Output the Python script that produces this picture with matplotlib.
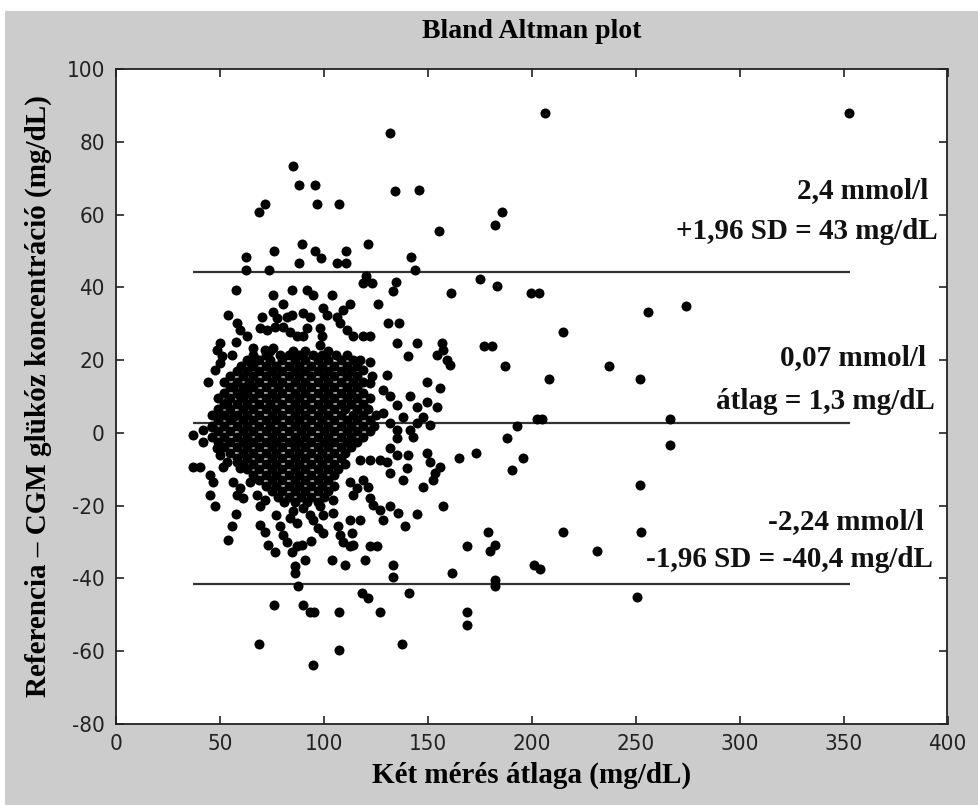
import matplotlib.pyplot as plt
import matplotlib.font_manager as fm
from matplotlib.patches import Rectangle
import numpy as np

plt.rcParams['axes.unicode_minus'] = False

# --- adatok (leolvasva az abrarol) ---
# pontok a felso tartomanyban (atlag, kulonbseg)
felso_pontok = [
    (131.8, 82.3), (85.3, 73.4), (88.2, 68.0), (95.6, 68.0), (134.2, 66.5), (145.9, 66.8),
    (71.7, 62.8), (68.8, 60.6), (96.6, 62.8), (107.4, 62.8), (155.5, 55.5), (89.3, 51.8),
    (121.4, 51.8), (76.2, 50.1), (95.6, 50.1), (98.5, 48.0), (110.5, 50.1), (62.4, 48.2),
    (141.8, 48.2), (62.4, 44.8), (73.5, 44.8), (88.2, 46.6), (106.5, 46.6), (110.7, 46.6),
    (143.9, 44.8), (120.3, 43.1), (123.0, 41.3), (119.0, 41.3), (134.6, 41.4), (133.4, 39.1),
    (57.7, 39.3), (75.4, 37.9), (84.5, 39.3), (91.8, 39.3), (94.9, 37.9), (103.8, 37.9),
    (126.2, 35.4), (80.5, 35.4), (112.6, 35.4), (109.4, 33.8), (99.7, 34.3), (101.3, 32.4),
    (54.0, 32.4), (70.1, 31.9), (75.7, 33.3), (77.3, 31.5), (82.1, 31.9), (84.5, 32.4),
    (90.1, 32.9), (93.3, 31.9), (106.2, 31.9), (107.8, 30.1), (131.0, 30.1), (136.3, 30.1),
    (58.1, 30.1), (59.7, 28.3), (62.9, 26.5), (69.3, 28.8), (72.5, 28.3), (76.5, 29.2),
    (80.5, 29.2), (83.7, 27.8), (86.9, 26.5), (91.8, 28.8), (90.1, 26.5), (98.1, 28.8),
    (98.9, 26.5), (98.1, 24.2), (111.0, 28.3), (114.2, 26.5), (119.0, 26.5), (122.2, 26.5),
    (135.0, 24.8), (144.7, 24.8), (156.7, 24.8), (157.5, 22.8), (154.3, 21.4), (159.4, 19.9),
    (140.6, 21.2), (50.0, 24.8), (48.4, 22.8), (50.9, 21.0), (50.0, 19.1), (47.6, 17.3),
    (44.4, 14.1), (55.7, 21.4), (57.7, 25.1), (66.1, 23.3), (71.7, 22.8), (75.7, 23.3),
    (64.5, 19.6), (67.7, 20.1),
]

# a suru mag szelei
kozep_pontok = [
    (117.4, 20.1), (119.0, 17.3), (122.2, 19.6), (123.0, 15.5), (122.2, 13.7), (130.5, 15.9),
    (149.5, 14.1), (155.9, 12.3), (149.5, 8.6), (154.3, 7.2), (141.4, 10.0), (144.7, 7.2),
    (147.8, 4.5), (151.1, 2.2), (128.6, 11.8), (131.8, 10.0), (135.0, 7.7), (138.2, 4.5),
    (128.6, 5.4), (131.8, 2.7), (135.0, 0.8), (141.4, 0.8), (144.7, 2.7), (53.3, 8.6),
    (50.0, 4.9), (56.4, 4.5), (46.0, 1.7), (42.0, 0.8), (37.2, -0.5), (56.4, 12.7),
    (59.7, 10.0), (62.9, 11.8),
]

also_pontok = [
    (42.0, -2.4), (37.2, -9.4), (40.4, -9.4), (48.4, -4.2), (50.0, -6.0), (53.3, -7.9),
    (51.6, -9.3), (45.2, -11.5), (46.8, -13.4), (45.2, -17.0), (47.6, -20.2), (58.1, -7.9),
    (59.7, -9.7), (56.4, -13.4), (59.7, -15.2), (58.1, -17.0), (61.2, -17.9), (57.7, -22.3),
    (55.7, -25.7), (54.0, -29.4), (64.5, -13.4), (67.7, -17.0), (69.3, -20.2), (71.7, -18.4),
    (69.3, -25.3), (71.7, -27.1), (73.3, -30.8), (76.5, -32.6), (77.0, -22.5), (78.9, -25.7),
    (80.5, -28.0), (82.1, -29.9), (83.7, -23.4), (86.9, -24.8), (85.3, -21.6), (84.5, -32.6),
    (86.9, -31.2), (89.3, -30.8), (86.1, -36.7), (86.1, -38.5), (90.9, -34.9), (93.9, -29.7),
    (90.1, -20.7), (93.3, -22.5), (94.9, -23.9), (97.3, -26.2), (99.7, -27.6), (98.1, -20.2),
    (99.7, -22.5), (103.8, -34.9), (110.2, -36.3), (119.8, -34.9), (104.5, -18.4), (104.5, -22.1),
    (107.0, -25.7), (107.8, -28.0), (109.4, -29.9), (112.6, -31.2), (114.2, -30.8), (112.6, -23.9),
    (117.4, -23.9), (113.4, -27.6), (122.2, -31.2), (125.4, -31.2), (112.6, -13.4), (114.2, -17.0),
    (115.8, -15.2), (119.0, -12.9), (121.4, -14.8), (122.2, -17.9), (123.8, -19.8), (127.0, -21.2),
    (128.6, -23.9), (131.8, -20.2), (135.8, -22.1), (139.0, -25.7), (133.4, -36.3), (133.4, -39.5),
    (144.7, -22.3), (157.5, -20.1), (161.5, -38.4), (168.7, -31.2), (117.4, -7.4), (122.2, -7.4),
    (127.0, -7.4), (130.2, -7.9), (131.8, -11.1), (138.2, -12.9), (139.8, -9.7), (140.6, -6.0),
    (147.8, -14.8), (149.5, -5.6), (151.1, -7.9), (155.9, -9.3), (153.5, -11.1), (152.7, -12.9),
    (135.0, -1.5), (143.0, -1.0), (131.8, -4.2), (135.0, -6.0),
    (87.4, -42.2), (118.2, -43.9), (121.0, -45.4), (141.1, -43.9), (76.2, -47.4), (90.1, -47.4),
    (93.3, -49.1), (95.4, -49.1), (107.4, -49.1), (127.0, -49.1), (168.7, -49.1), (168.7, -52.7),
    (68.8, -58.0), (107.4, -59.6), (137.5, -58.0), (94.6, -63.9), (182.3, -40.4),
]

jobb_pontok = [
    (206.6, 88.0), (352.6, 88.0), (185.9, 60.6), (182.3, 57.0), (175.0, 42.2), (183.4, 40.5),
    (161.0, 38.5), (199.7, 38.5), (203.7, 38.5), (255.7, 33.1), (274.0, 34.8), (215.1, 27.7),
    (176.9, 24.0), (181.0, 24.0), (160.7, 18.7), (187.2, 18.5), (237.0, 18.5), (208.3, 14.8),
    (251.9, 14.8), (192.8, 2.0), (202.5, 3.9), (204.9, 3.9), (266.5, 3.9), (188.3, -1.5),
    (266.5, -3.2), (165.1, -7.0), (173.2, -5.4), (195.6, -7.0), (190.7, -10.3), (251.9, -14.4),
    (179.0, -27.3), (182.3, -30.9), (179.8, -32.5), (215.1, -27.3), (252.7, -27.3), (231.3, -32.5),
    (201.0, -36.4), (204.2, -37.5), (182.3, -42.0), (250.8, -45.0),
]

# a suru magban soronkent (kulonbseg -> atlagok)
mag_sorok = {
    22.5: [74, 85, 91, 102],
    21.5: [66, 72, 79, 83, 88, 95, 99, 106, 111],
    20.0: [63, 69, 74, 80, 86, 91, 97, 102, 108, 114],
    18.5: [60, 66, 72, 77, 83, 88, 94, 99, 105, 111, 116],
    17.0: [58, 63, 69, 75, 80, 86, 91, 97, 102, 108, 113],
    15.5: [55, 61, 66, 72, 77, 83, 88, 94, 100, 105, 111, 116],
    14.0: [52, 58, 64, 69, 75, 80, 86, 91, 97, 102, 108, 114, 119],
    12.5: [55, 61, 66, 72, 78, 83, 89, 94, 100, 105, 111, 116],
    11.0: [52, 58, 63, 69, 75, 80, 86, 91, 97, 102, 108, 113, 119],
    9.5: [49, 55, 61, 66, 72, 77, 83, 88, 94, 100, 105, 111, 116, 122],
    8.0: [52, 58, 63, 69, 74, 80, 86, 91, 97, 102, 108, 113, 119],
    6.5: [49, 55, 61, 66, 72, 77, 83, 88, 94, 99, 105, 110, 116, 121],
    5.0: [46, 52, 58, 63, 69, 75, 80, 86, 91, 97, 102, 108, 114, 119, 125],
    3.5: [49, 55, 61, 66, 72, 77, 83, 88, 94, 99, 105, 111, 116, 122],
    2.0: [46, 52, 58, 63, 69, 74, 80, 86, 91, 97, 102, 108, 113, 119, 124],
    0.5: [49, 55, 61, 66, 72, 77, 83, 89, 94, 100, 105, 111, 116, 122],
    -1.0: [46, 52, 58, 63, 69, 75, 80, 86, 91, 97, 102, 108, 113, 119],
    -2.5: [49, 55, 61, 66, 72, 77, 83, 88, 94, 100, 105, 111, 116],
    -4.0: [52, 58, 63, 69, 75, 80, 86, 91, 97, 102, 108, 113],
    -5.5: [55, 61, 66, 72, 77, 83, 88, 94, 99, 105, 110],
    -7.0: [58, 63, 69, 75, 80, 86, 91, 97, 102, 108],
    -8.5: [61, 66, 72, 77, 83, 88, 94, 99, 105, 110],
    -10.0: [63, 69, 75, 80, 86, 91, 97, 102, 107],
    -11.5: [66, 72, 77, 83, 88, 94, 99, 105],
    -13.0: [69, 75, 80, 86, 91, 97, 102],
    -14.5: [72, 77, 83, 88, 94, 99, 105],
    -16.0: [75, 80, 86, 91, 97, 102],
    -17.5: [78, 83, 89, 94, 100],
    -19.0: [81, 86, 92, 97],
}

# vonalak: +1.96 SD, atlag, -1.96 SD
vonal_szintek = [44.3, 2.8, -41.5]
vonal_kezdet = 37
vonal_veg = 353

feliratok = [
    (390.7, 66.5, '2,4 mmol/l'),
    (395.2, 55.3, '+1,96 SD = 43 mg/dL'),
    (389.5, 20.6, '0,07 mmol/l'),
    (393.9, 8.5, 'átlag = 1,3 mg/dL'),
    (388.7, -24.5, '-2,24 mmol/l'),
    (392.8, -34.9, '-1,96 SD = -40,4 mg/dL'),
]

# --- betutipus a tengelyfeliratokhoz: keskeny sans, ha van ---
tick_prop = None
for f in fm.fontManager.ttflist:
    if f.name == 'Liberation Sans Narrow' and f.weight in (400, 'normal', 'regular') and f.style == 'normal':
        tick_prop = fm.FontProperties(fname=f.fname, size=17)
if tick_prop is None:
    for f in fm.fontManager.ttflist:
        if 'Condensed' in f.fname and 'Sans' in f.name and 'Bold' not in f.fname \
                and 'Oblique' not in f.fname and 'Italic' not in f.fname and 'Mono' not in f.fname:
            tick_prop = fm.FontProperties(fname=f.fname, size=16)
            break
if tick_prop is None:
    tick_prop = fm.FontProperties(family='Liberation Sans', size=15)
serif = 'Liberation Serif'

fig = plt.figure(figsize=(9.79, 8.05), dpi=100, facecolor='white')
fig.add_artist(Rectangle((5 / 979, 0), 1, (805 - 11) / 805, transform=fig.transFigure,
                         facecolor='#cccccc', edgecolor='none', zorder=-10))
ax = fig.add_axes([116 / 979, (805 - 724) / 805, (947.5 - 116) / 979, (724 - 69) / 805])
ax.set_facecolor('white')

pontok = felso_pontok + kozep_pontok + also_pontok + jobb_pontok
for y, xs in mag_sorok.items():
    pontok = pontok + [(x, y) for x in xs]
pontok = np.array(pontok)
ax.plot(pontok[:, 0], pontok[:, 1], 'o', color='black', ms=7.2, mec='black', mew=0, zorder=3)

ax.hlines(vonal_szintek, vonal_kezdet, vonal_veg, color='#333333', lw=1.6, zorder=2)

for x, y, t in feliratok:
    ax.text(x, y, t, ha='right', va='center', fontsize=21, fontweight='bold',
            family=serif, color='#111111', zorder=4)

ax.set_xlim(0, 400)
ax.set_ylim(-80, 100)
ax.set_xticks(np.arange(0, 401, 50))
ax.set_yticks(np.arange(-80, 101, 20))
ax.tick_params(direction='in', length=6, width=1.2, top=True, right=True, color='#222222')
ax.tick_params(axis='y', pad=8)
ax.tick_params(axis='x', pad=7)
for lab in ax.get_xticklabels() + ax.get_yticklabels():
    lab.set_fontproperties(tick_prop)
    lab.set_color('#222222')
for sp in ax.spines.values():
    sp.set_linewidth(1.3)
    sp.set_color('#222222')

ax.set_title('Bland Altman plot', fontsize=20, fontweight='bold', family=serif, pad=22)
ax.set_xlabel('Két mérés átlaga (mg/dL)', fontsize=21, fontweight='bold', family=serif, labelpad=6)
ax.set_ylabel('Referencia – CGM glükóz koncentráció (mg/dL)', fontsize=21,
              fontweight='bold', family=serif, labelpad=10)

plt.savefig('out.png', dpi=100, facecolor=fig.get_facecolor())
